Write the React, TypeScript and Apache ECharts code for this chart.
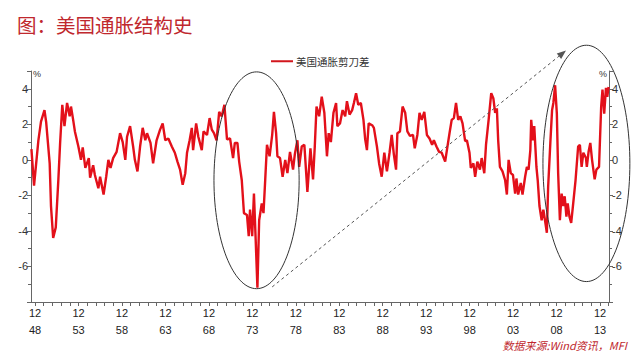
import React, { useEffect, useRef } from "react";
import * as echarts from "echarts";

const seriesName = "美国通胀剪刀差";
const titleText = "图：美国通胀结构史";
const sourceText = "数据来源:Wind资讯，MFI";

const years = [
  1948.5, 1948.8, 1949.3, 1949.6, 1950.0, 1950.2, 1950.6, 1950.75, 1951.0, 1951.3, 1951.6, 1951.8,
  1952.05, 1952.3, 1952.6, 1952.9, 1953.05, 1953.3, 1953.5, 1953.9, 1954.2, 1954.4, 1954.7, 1955.1,
  1955.25, 1955.6, 1955.8, 1956.2, 1956.4, 1956.8, 1957.1, 1957.35, 1957.6, 1957.9, 1958.3, 1958.7,
  1959.0, 1959.3, 1959.5, 1959.85, 1960.2, 1960.4, 1960.7, 1961.0, 1961.3, 1961.6, 1961.8, 1962.2,
  1962.5, 1962.9, 1963.3, 1963.6, 1963.9, 1964.25, 1964.65, 1965.0, 1965.3, 1965.6, 1965.9, 1966.2,
  1966.4, 1966.7, 1966.95, 1967.1, 1967.45, 1967.7, 1968.1, 1968.3, 1968.7, 1969.0, 1969.25, 1969.5,
  1969.8, 1970.1, 1970.4, 1970.7, 1971.0, 1971.35, 1971.7, 1971.9, 1972.2, 1972.4, 1972.7, 1972.95,
  1973.3, 1973.5, 1973.65, 1973.9, 1974.1, 1974.3, 1974.5, 1974.7, 1975.0, 1975.2, 1975.4, 1975.6,
  1975.9, 1976.2, 1976.4, 1976.65, 1976.8, 1977.1, 1977.4, 1977.7, 1977.95, 1978.25, 1978.6, 1978.8,
  1979.1, 1979.3, 1979.6, 1979.9, 1980.25, 1980.6, 1980.9, 1981.1, 1981.3, 1981.6, 1981.9, 1982.2,
  1982.5, 1982.7, 1982.95, 1983.25, 1983.55, 1983.7, 1984.0, 1984.3, 1984.6, 1984.8, 1985.1, 1985.4,
  1985.6, 1985.85, 1986.1, 1986.4, 1986.7, 1986.9, 1987.1, 1987.3, 1987.7, 1987.9, 1988.25, 1988.5,
  1988.8, 1989.1, 1989.4, 1989.7, 1989.95, 1990.2, 1990.45, 1990.6, 1990.9, 1991.2, 1991.5, 1991.75,
  1992.05, 1992.4, 1992.6, 1992.9, 1993.15, 1993.4, 1993.7, 1994.0, 1994.3, 1994.6, 1994.8, 1995.1,
  1995.4, 1995.7, 1996.1, 1996.3, 1996.6, 1996.85, 1997.1, 1997.35, 1997.6, 1997.85, 1998.1, 1998.4,
  1998.6, 1998.9, 1999.05, 1999.35, 1999.55, 1999.8, 2000.1, 2000.3, 2000.6, 2000.8, 2001.1, 2001.4,
  2001.65, 2001.85, 2002.05, 2002.2, 2002.4, 2002.7, 2003.0, 2003.2, 2003.4, 2003.65, 2003.9, 2004.15,
  2004.3, 2004.5, 2004.8, 2005.0, 2005.3, 2005.5, 2005.7, 2005.9, 2006.0, 2006.2, 2006.35, 2006.6,
  2006.75, 2006.95, 2007.2, 2007.4, 2007.6, 2007.8, 2007.95, 2008.2, 2008.4, 2008.55, 2008.75, 2008.95,
  2009.1, 2009.3, 2009.5, 2009.7, 2009.85, 2010.05, 2010.2, 2010.4, 2010.6, 2010.8, 2011.1, 2011.4,
  2011.6, 2011.8, 2012.0, 2012.3, 2012.4, 2012.6, 2012.8, 2013.0, 2013.3, 2013.5, 2013.8, 2014.05,
  2014.2, 2014.4, 2014.6, 2014.75, 2014.9,
];

const values = [
  0.6, -1.45, 1.1, 2.15, 2.8, 2.1, -0.2, -2.6, -4.4, -3.8, -1.1, 0.95,
  3.1, 1.9, 3.2, 2.45, 3.0, 2.25, 1.6, 0.75, 0.0, 0.7, -0.45, 0.1,
  -1.0, -0.3, -0.85, -1.6, -0.95, -1.95, -0.95, 0.0, -0.45, 0.1, 0.45, 1.5,
  1.0, 0.0, 1.3, 1.9, 0.75, 0.0, -0.65, 0.75, 1.8, 1.1, 1.5, 0.95,
  -0.2, 1.1, 1.7, 2.05, 1.1, 1.2, 0.75, 0.4, -0.1, -0.55, -1.4, -0.75,
  0.4, 1.1, 1.8, 0.55, 2.05, 1.3, 0.55, 1.6, 1.4, 2.35, 1.7, 1.5,
  1.1, 2.7, 2.45, 3.1, 1.15, 1.2, 0.1, 0.95, 0.95, -0.1, -1.15, -3.0,
  -3.1, -4.3, -2.8, -4.3, -1.9, -4.5, -7.2, -3.4, -2.45, -3.0, -1.1, 0.85,
  0.2, 1.4, 2.7, 1.5, 0.2, 0.1, -0.95, 0.0, -0.75, 0.45, -0.55, 0.3,
  1.1, -0.4, 0.75, 0.85, -1.8, 0.65, -1.1, 0.75, 3.0, 2.45, 3.55, 2.65,
  0.2, 1.5, 1.0, 2.65, 3.2, 1.9, 2.05, 2.8, 2.45, 3.3, 2.55, 2.8,
  3.2, 3.75, 3.1, 3.2, 2.25, 1.15, 0.55, 2.05, 1.95, 1.8, 0.75, -0.2,
  -0.95, 0.4, -0.65, 0.4, 1.4, 0.3, -0.55, 1.5, 1.6, 3.0, 2.65, 1.6,
  1.35, 1.4, 0.65, 1.4, 2.65, 2.25, 2.7, 1.4, 1.2, 0.85, 1.1, 0.75,
  0.45, 0.4, -0.1, 0.55, 1.5, 2.25, 2.35, 3.2, 2.25, 2.45, 2.05, 1.05,
  1.1, 0.4, -0.45, -0.2, -0.95, -0.1, -0.55, 0.1, -0.75, 0.85, 2.25, 3.75,
  3.45, 2.65, 2.9, 1.1, -0.4, -0.65, -1.15, -1.95, 0.0, -0.75, -0.85, -1.9,
  -1.05, -1.95, -1.3, -1.95, -0.95, -0.4, -0.55, 0.55, 2.25, 1.1, 1.9, -0.4,
  -1.15, -2.6, -3.4, -2.8, -3.45, -4.1, -1.5, 0.95, 2.8, 3.2, 4.2, 2.6,
  -0.75, -3.4, -1.9, -2.6, -2.05, -3.2, -2.45, -3.2, -3.55, -2.6, -1.15, 0.75,
  0.85, -0.4, 0.4, 0.1, -0.4, 0.45, 0.95, 0.0, -1.1, -0.55, -0.4, 3.0,
  3.95, 2.6, 4.05, 3.55, 4.1,
];

// x-axis: labels at December of every 5th year, ticks at every December
const labelYears = [1948, 1953, 1958, 1963, 1968, 1973, 1978, 1983, 1988, 1993, 1998, 2003, 2008, 2013];
const tickYears = Array.from({ length: 67 }, (_, i) => 1948 + i);
const DEC = 11 / 12;

const X_MIN = 1948.45;
const X_MAX = 2014.95;
const Y_MIN = -8;
const Y_MAX = 5;

const FONT = "'Liberation Sans', Arial, sans-serif";
const CJK = "'Noto Sans CJK SC', sans-serif";
const RED = "#c0282e";

export default function App() {
  const ref = useRef<HTMLDivElement>(null);

  useEffect(() => {
    if (!ref.current) return;
    const chart = echarts.init(ref.current, undefined, { renderer: "svg" });

    const yAxisCommon = {
      type: "value",
      min: Y_MIN,
      max: Y_MAX,
      interval: 2,
      name: "%",
      nameLocation: "end",
      nameGap: -3,
      splitLine: { show: false },
      axisLine: { show: true, lineStyle: { color: "#666", width: 1 } },
      axisTick: { show: true, length: 4, lineStyle: { color: "#666" } },
      minorTick: { show: true, splitNumber: 2, length: 3, lineStyle: { color: "#666" } },
      axisLabel: {
        fontFamily: FONT,
        fontSize: 11,
        color: "#333",
        margin: 3,
        formatter: (v: number) => (v === Y_MIN || v === Y_MAX ? "" : String(v)),
      },
    };

    chart.setOption({
      animation: false,
      title: {
        text: titleText,
        left: 12,
        top: 10,
        textStyle: { fontFamily: CJK, fontSize: 19.5, fontWeight: "normal", color: RED },
      },
      legend: {
        left: 266,
        top: 51,
        icon: "rect",
        itemWidth: 22,
        itemHeight: 2,
        itemGap: 10,
        textStyle: { fontFamily: CJK, fontSize: 10.5, color: "#333", padding: [0, 0, 0, -2] },
        data: [seriesName],
      },
      grid: { left: 31, right: 31, top: 71, bottom: 57, containLabel: false },
      xAxis: {
        type: "value",
        min: X_MIN,
        max: X_MAX,
        splitLine: { show: false },
        axisLine: { show: true, onZero: false, lineStyle: { color: "#666", width: 1 } },
        axisTick: {
          show: true,
          length: 4,
          lineStyle: { color: "#666" },
          customValues: tickYears.map((y) => y + DEC),
        },
        axisLabel: {
          fontFamily: FONT,
          fontSize: 11,
          color: "#222",
          margin: 2,
          lineHeight: 17,
          customValues: labelYears.map((y) => y + DEC),
          formatter: (v: number) => "12\n" + String(Math.floor(v) % 100).padStart(2, "0"),
        },
      },
      yAxis: [
        {
          ...yAxisCommon,
          position: "left",
          nameTextStyle: { fontFamily: FONT, fontSize: 9, color: "#333", align: "left", verticalAlign: "middle", padding: [0, 0, 0, 2] },
        },
        {
          ...yAxisCommon,
          position: "right",
          nameTextStyle: { fontFamily: FONT, fontSize: 9, color: "#333", align: "right", verticalAlign: "middle", padding: [0, 2, 0, 0] },
        },
      ],
      series: [
        {
          name: seriesName,
          type: "line",
          yAxisIndex: 0,
          showSymbol: false,
          symbol: "none",
          lineStyle: { color: "#e3101a", width: 2.4 },
          itemStyle: { color: "#d2161d" },
          data: years.map((y, i) => [y, values[i]]),
        },
      ],
    });

    const px = (x: number, y: number) => chart.convertToPixel({ gridIndex: 0 }, [x, y]) as number[];

    const ellipse = (cx: number, cy: number, rxYears: number, ryVal: number) => {
      const c = px(cx, cy);
      const e = px(cx + rxYears, cy + ryVal);
      return {
        type: "ellipse",
        shape: { cx: c[0], cy: c[1], rx: Math.abs(e[0] - c[0]), ry: Math.abs(c[1] - e[1]) },
        style: { fill: "none", stroke: "#333", lineWidth: 1 },
        silent: true,
        z: 10,
      };
    };

    const a0 = px(1976.2, -7.15);
    const a1 = px(2010.0, 6.15);
    const ang = Math.atan2(a1[1] - a0[1], a1[0] - a0[0]);
    const hl = 9;
    const hw = 3.5;
    const tip = a1;
    const base = [tip[0] - hl * Math.cos(ang), tip[1] - hl * Math.sin(ang)];
    const head = [
      tip,
      [base[0] + hw * Math.sin(ang), base[1] - hw * Math.cos(ang)],
      [base[0] - hw * Math.sin(ang), base[1] + hw * Math.cos(ang)],
    ];

    chart.setOption({
      graphic: [
        ellipse(1974.4, -1.15, 4.9, 6.1),
        ellipse(2012.35, -0.2, 5.0, 6.65),
        {
          type: "line",
          shape: { x1: a0[0], y1: a0[1], x2: base[0], y2: base[1] },
          style: { stroke: "#555", lineWidth: 1, lineDash: [3, 3] },
          silent: true,
          z: 10,
        },
        {
          type: "polygon",
          shape: { points: head },
          style: { fill: "#555" },
          silent: true,
          z: 10,
        },
        {
          type: "text",
          right: 13,
          top: 339,
          style: { text: sourceText, font: `italic 11px ${CJK}`, fill: RED },
          silent: true,
        },
      ],
    });

    return () => chart.dispose();
  }, []);

  return <div ref={ref} style={{ width: 640, height: 359, margin: -8 }} />;
}
